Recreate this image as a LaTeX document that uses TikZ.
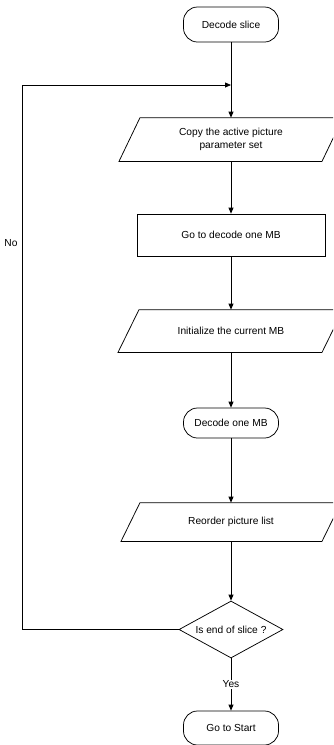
\documentclass[tikz,border=0pt]{standalone}
\usepackage{fontspec}
\setmainfont{Liberation Sans}
\usetikzlibrary{arrows.meta,shapes.geometric}
\begin{document}
\begin{tikzpicture}[x=1pt,y=-1pt,
  font=\fontsize{10.2}{13.5}\selectfont,
  line width=0.75pt,
  flow/.style={-{Triangle[length=6pt,width=5pt]}},
  term/.style={draw, rounded corners=14pt, minimum width=95pt, inner sep=0pt},
  procbox/.style={draw, minimum width=188pt, minimum height=42pt, inner sep=0pt},
  iobox/.style={minimum width=200pt, inner sep=0pt, align=center},
  decision/.style={draw, diamond, shape aspect=1.82, minimum width=104pt, minimum height=57pt, inner sep=0pt},
  tag/.style={fill=white, inner sep=1pt}
]
\useasboundingbox (0,0) rectangle (333,745);
\clip (0,0) rectangle (333,745);

% nodes
\node[term, minimum height=35pt] (start) at (231,24.5) {Decode slice};
\node[iobox, minimum height=43pt] (p1) at (231,139.5) {Copy the active picture\\parameter set};
\node[procbox] (goto) at (231,235) {Go to decode one MB};
\node[iobox, minimum height=42pt] (p2) at (231,331) {Initialize the current MB};
\node[term, minimum height=30pt] (mb) at (231,423) {Decode one MB};
\node[iobox, minimum height=38pt] (p3) at (231,522) {Reorder picture list};
\node[decision] (dec) at (231,629.5) {Is end of slice ?};
\node[term, minimum height=34pt] (stop) at (231,728) {Go to Start};

% slanted input/output outlines
\draw ([xshift=-112pt]p1.south) -- ([xshift=91pt]p1.south) -- ([xshift=112pt]p1.north) -- ([xshift=-91pt]p1.north) -- cycle;
\draw ([xshift=-113pt]p2.south) -- ([xshift=91pt]p2.south) -- ([xshift=112pt]p2.north) -- ([xshift=-92pt]p2.north) -- cycle;
\draw ([xshift=-110pt]p3.south) -- ([xshift=91pt]p3.south) -- ([xshift=110pt]p3.north) -- ([xshift=-91pt]p3.north) -- cycle;

% loop-back points
\coordinate (merge) at (231,85);
\coordinate (corner) at (22,85);

% connectors
\draw[flow] (start) -- (p1);
\draw[flow] (p1) -- (goto);
\draw[flow] (goto) -- (p2);
\draw[flow] (p2) -- (mb);
\draw[flow] (mb) -- (p3);
\draw[flow] (p3) -- (dec);
\draw[flow] (dec) -- node[tag] (yes) {Yes} (stop);
\draw[flow] (dec.west) -| (corner) -- (merge);
\node (no) at (11,243) {No};
\end{tikzpicture}
\end{document}
